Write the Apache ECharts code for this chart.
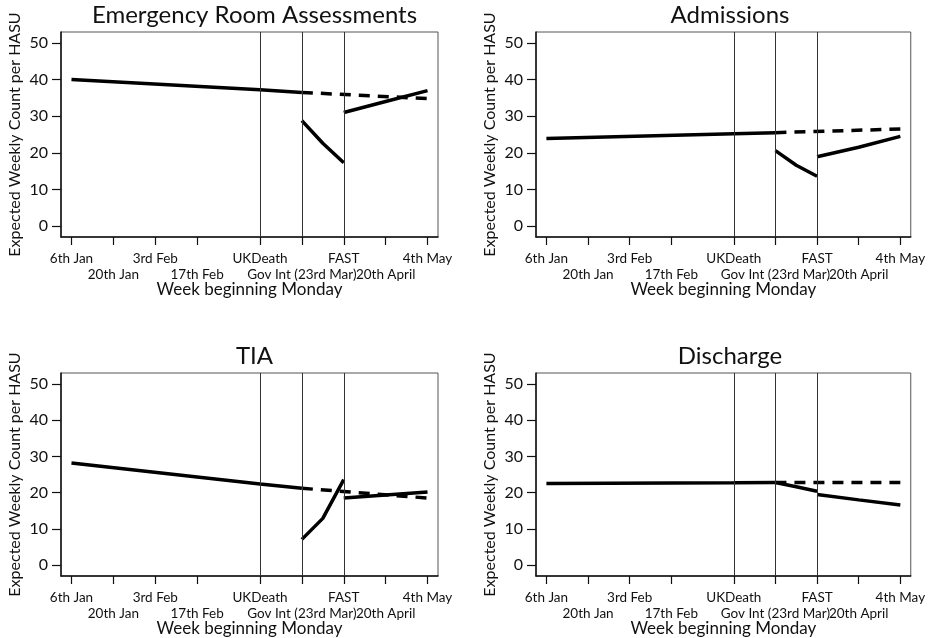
<!DOCTYPE html>
<html>
<head>
<meta charset="utf-8">
<script src="https://cdn.jsdelivr.net/npm/echarts@6/dist/echarts.min.js"></script>
<style>html,body{margin:0;padding:0;background:#fff}#c{width:928px;height:638px}</style>
</head>
<body>
<div id="c"></div>
<script>
// ---- data ----
const weeks = ['6 Jan', '13 Jan', '20 Jan', '27 Jan', '3 Feb', '10 Feb', '17 Feb', '24 Feb', '2 Mar',
  '9 Mar', '16 Mar', '23 Mar', '30 Mar', '6 Apr', '13 Apr', '20 Apr', '27 Apr', '4 May'];
const tickWeeks = [0, 2, 4, 6, 9, 11, 13, 15, 17];
const tickLabels = ['6th Jan', '20th Jan', '3rd Feb', '17th Feb', 'UKDeath', 'Gov Int (23rd Mar)', 'FAST', '20th April', '4th May'];
const eventWeeks = [9, 11, 13];
const yTicks = [0, 10, 20, 30, 40, 50];
const titles = ['Emergency Room Assessments', 'Admissions', 'TIA', 'Discharge'];

const erPre = [[0, 40.0], [9, 37.2], [11, 36.5]];
const erCf = [[11, 36.5], [17, 34.8]];
const erPost1 = [[11, 28.8], [12, 22.6], [13, 17.3]];
const erPost2 = [[13, 31.0], [15, 34.0], [17, 37.0]];

const admPre = [[0, 23.9], [9, 25.2], [11, 25.5]];
const admCf = [[11, 25.5], [17, 26.5]];
const admPost1 = [[11, 20.6], [12, 16.6], [13, 13.6]];
const admPost2 = [[13, 18.9], [15, 21.5], [17, 24.5]];

const tiaPre = [[0, 28.2], [9, 22.4], [11, 21.2]];
const tiaCf = [[11, 21.2], [13, 20.3], [17, 18.5]];
const tiaPost1 = [[11, 7.1], [12, 12.9], [13, 23.6]];
const tiaPost2 = [[13, 18.5], [17, 20.2]];

const disPre = [[0, 22.5], [9, 22.7], [11, 22.8]];
const disCf = [[11, 22.8], [17, 22.8]];
const disPost1 = [[11, 22.8], [12, 21.6], [13, 20.4]];
const disPost2 = [[13, 19.5], [15, 18.0], [17, 16.6]];

const panels = [
  [erPre, erCf, erPost1, erPost2],
  [admPre, admCf, admPost1, admPost2],
  [tiaPre, tiaCf, tiaPost1, tiaPost2],
  [disPre, disCf, disPost1, disPost2]
];

// ---- layout ----
const FONT = 'Lato';
const boxes = [
  {left: 61, top: 32, width: 377, height: 205},
  {left: 536, top: 32, width: 378, height: 205},
  {left: 61, top: 373, width: 377, height: 205},
  {left: 536, top: 373, width: 378, height: 205}
];
// label rows: first row labels, then second row split so neighbours never collide
const labelSets = [
  {idx: [0, 4, 9, 13, 17], margin: 15},
  {idx: [2, 11], margin: 31},
  {idx: [6, 15], margin: 31}
];

const grid = [], xAxis = [], yAxis = [], title = [], series = [];
boxes.forEach((b, i) => {
  grid.push({left: b.left, top: b.top, width: b.width, height: b.height,
    show: true, borderColor: '#555', borderWidth: 1, containLabel: false});
  title.push({text: titles[i], left: b.left + b.width / 2, top: b.top - 34, textAlign: 'center',
    textStyle: {fontFamily: FONT, fontSize: 24, fontWeight: 'normal', color: '#111'}});
  labelSets.forEach((ls, j) => {
    const ax = {type: 'category', gridIndex: i, data: weeks, boundaryGap: true, position: 'bottom', offset: 0,
      splitLine: {show: false},
      axisLine: {show: j === 0, onZero: false, lineStyle: {color: '#111', width: 1.5}},
      axisTick: {show: j === 0, length: 8, alignWithLabel: true, interval: (idx) => tickWeeks.indexOf(idx) >= 0,
        lineStyle: {color: '#111', width: 1.2}},
      axisLabel: {interval: (idx) => ls.idx.indexOf(idx) >= 0, margin: ls.margin, fontFamily: FONT, fontSize: 13.5,
        color: '#111', showMinLabel: true, showMaxLabel: true,
        formatter: (v, idx) => { const k = tickWeeks.indexOf(idx); return k < 0 ? '' : tickLabels[k]; }}
    };
    if (j === 0) {
      ax.name = 'Week beginning Monday';
      ax.nameLocation = 'middle';
      ax.nameGap = 44;
      ax.nameTextStyle = {fontFamily: FONT, fontSize: 17, color: '#111'};
    }
    xAxis.push(ax);
  });
  yAxis.push({type: 'value', gridIndex: i, min: -3, max: 53,
    name: 'Expected Weekly Count per HASU', nameLocation: 'middle', nameGap: 38,
    nameTextStyle: {fontFamily: FONT, fontSize: 16, color: '#111'},
    splitLine: {show: false},
    axisLine: {show: true, onZero: false, lineStyle: {color: '#111', width: 1.5}},
    axisTick: {show: true, length: 9, customValues: yTicks, lineStyle: {color: '#111', width: 1.2}},
    axisLabel: {customValues: yTicks, margin: 13, fontFamily: FONT, fontSize: 16, color: '#111'}
  });
  const [pre, cf, p1, p2] = panels[i];
  const base = {type: 'line', xAxisIndex: i * 3, yAxisIndex: i, symbol: 'none', silent: true, animation: false};
  series.push(Object.assign({}, base, {data: pre, lineStyle: {color: '#000', width: 3.5}, z: 3,
    markLine: {silent: true, symbol: 'none', label: {show: false}, animation: false,
      lineStyle: {color: '#333', width: 1, type: 'solid'},
      data: eventWeeks.map(w => ({xAxis: w}))}}));
  series.push(Object.assign({}, base, {data: cf, lineStyle: {color: '#000', width: 3.5, type: [11, 8]}, z: 3}));
  series.push(Object.assign({}, base, {data: p1, lineStyle: {color: '#000', width: 3.5}, z: 3}));
  series.push(Object.assign({}, base, {data: p2, lineStyle: {color: '#000', width: 3.5}, z: 3}));
});

const chart = echarts.init(document.getElementById('c'), null, {renderer: 'canvas'});
chart.setOption({backgroundColor: '#fff', animation: false, title, grid, xAxis, yAxis, series});
</script>
</body>
</html>
